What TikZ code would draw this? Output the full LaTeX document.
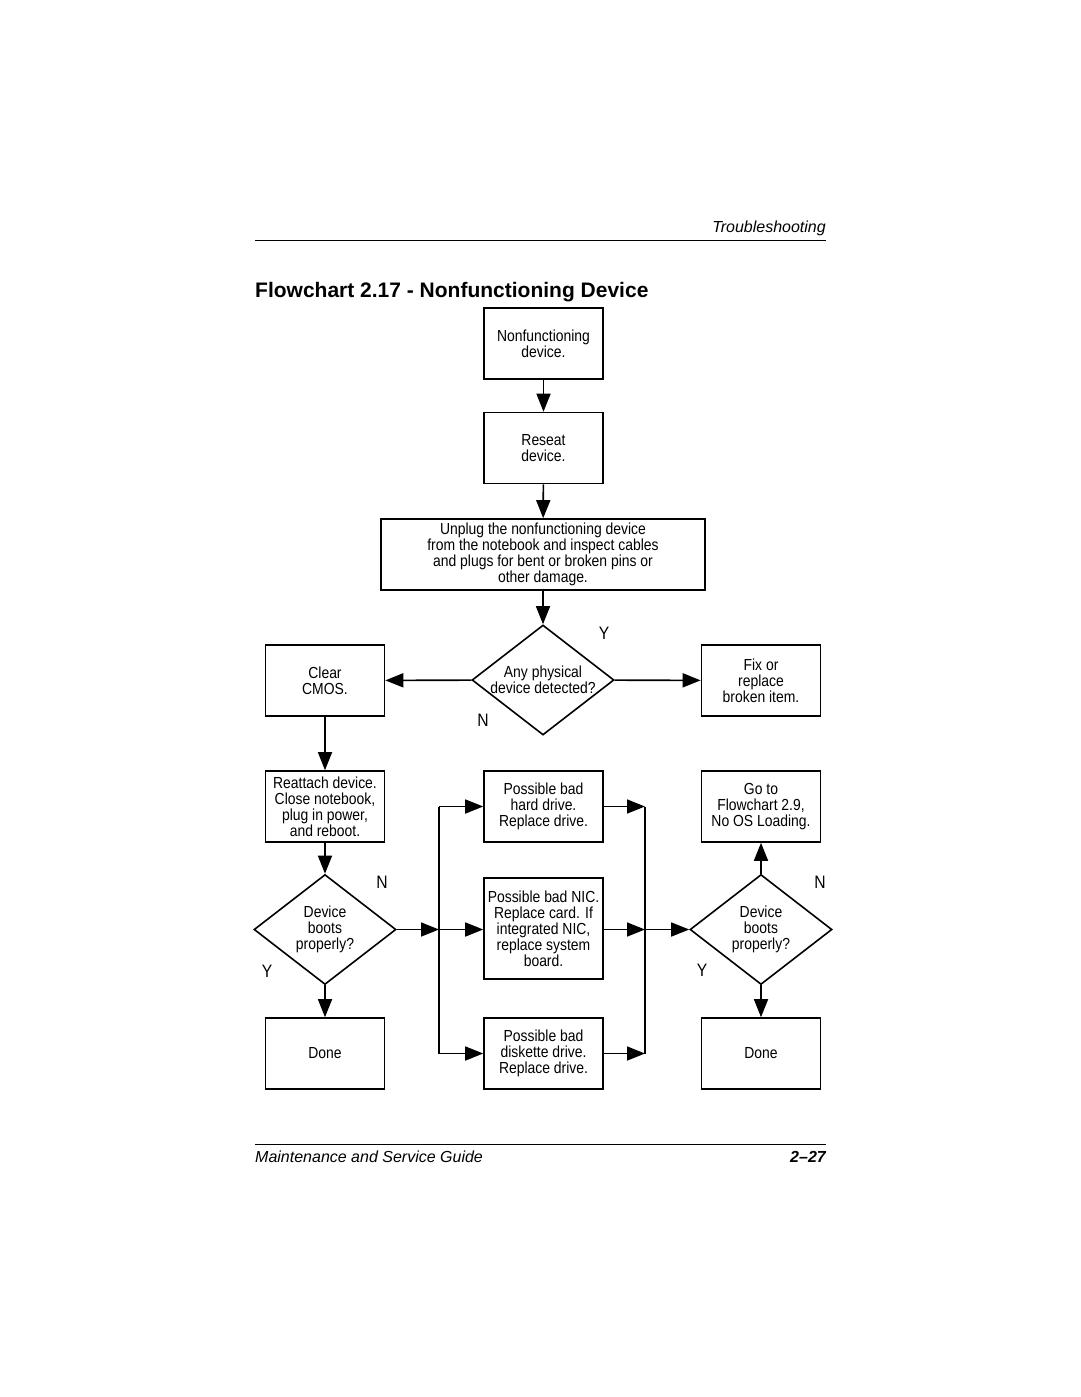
\documentclass[tikz,border=0pt]{standalone}
\usepackage{fontspec}
\setmainfont{Liberation Sans}
\newfontfamily\nf[FakeStretch=0.87]{Liberation Sans}
\usetikzlibrary{shapes.geometric,arrows.meta}
\begin{document}
\begin{tikzpicture}[x=1pt,y=-1pt,
  box/.style={draw,line width=1.6pt,rectangle,minimum width=119pt,minimum height=71pt,inner sep=0pt,align=center,font=\nf\fontsize{16}{16}\selectfont},
  wbox/.style={box,minimum width=324pt},
  dia/.style={draw,line width=1.6pt,diamond,minimum width=142pt,minimum height=110pt,inner sep=0pt},
  dtxt/.style={align=center,inner sep=0pt,font=\nf\fontsize{16}{16}\selectfont},
  arr/.style={line width=1.6pt,-{Triangle[length=18pt,width=14pt]}},
  ln/.style={line width=1.6pt},
  yn/.style={font=\nf\fontsize{18}{18}\selectfont,inner sep=0pt}]
\useasboundingbox (0,0) rectangle (1080,1397);
% header and footer
\node[anchor=east,inner sep=0pt,font=\fontsize{16}{16}\selectfont\itshape] (hdr) at (826,228) {Troubleshooting};
\coordinate (hl1) at (255,240); \coordinate (hl2) at (826,240);
\draw[line width=1pt] (hl1) -- (hl2);
\node[anchor=west,inner sep=0pt,font=\fontsize{21}{22}\selectfont\bfseries] (title) at (255,292) {Flowchart 2.17 - Nonfunctioning Device};
\coordinate (fl1) at (255,1144); \coordinate (fl2) at (826,1144);
\draw[line width=1pt] (fl1) -- (fl2);
\node[anchor=west,inner sep=0pt,font=\fontsize{16}{16}\selectfont\itshape] (ftl) at (255,1157) {Maintenance and Service Guide};
\node[anchor=east,inner sep=0pt,font=\fontsize{16}{16}\selectfont\bfseries\itshape] (ftr) at (826,1157) {2--27};
% nodes
\node[box] (b1) at (543.5,343.5) {Nonfunctioning\\device.};
\node[box] (b2) at (543.5,448) {Reseat\\device.};
\node[wbox] (b3) at (543,554.5) {Unplug the nonfunctioning device\\from the notebook and inspect cables\\and plugs for bent or broken pins or\\other damage.};
\node[dia] (d1) at (543,680) {};
\node[dtxt] (d1t) at (d1.center) {Any physical\\device detected?};
\node[box] (cmos) at (325,680.5) {Clear\\CMOS.};
\node[box] (fix) at (761,680.5) {Fix or\\replace\\broken item.};
\node[box] (re) at (325,806.5) {Reattach device.\\Close notebook,\\plug in power,\\and reboot.};
\node[dia] (d2) at (325,929.5) {};
\node[dtxt] (d2t) at (d2.center) {Device\\boots\\properly?};
\node[box] (done1) at (325,1053.5) {Done};
\node[box] (hd) at (543.5,806.5) {Possible bad\\hard drive.\\Replace drive.};
\node[box,minimum height=101pt] (nic) at (543.5,928.5) {Possible bad NIC.\\Replace card. If\\integrated NIC,\\replace system\\board.};
\node[box] (fd) at (543.5,1053.5) {Possible bad\\diskette drive.\\Replace drive.};
\node[dia] (d3) at (761,929.5) {};
\node[dtxt] (d3t) at (d3.center) {Device\\boots\\properly?};
\node[box] (goto) at (761,806.5) {Go to\\Flowchart 2.9,\\No OS Loading.};
\node[box] (done2) at (761,1053.5) {Done};
% labels
\node[yn] (y1) at (604,633) {Y};
\node[yn] (n1) at (483,720) {N};
\node[yn] (n2) at (382,882) {N};
\node[yn] (y2) at (267,971) {Y};
\node[yn] (n3) at (820,882) {N};
\node[yn] (y3) at (702,970) {Y};
% bus coordinates
\coordinate (Lt) at (439,806.5); \coordinate (Lm) at (439,929.5); \coordinate (Lb) at (439,1053.5);
\coordinate (Rt) at (645,806.5); \coordinate (Rm) at (645,929.5); \coordinate (Rb) at (645,1053.5);
% connectors
\draw[arr] (b1) -- (b2);
\draw[arr] (b2) -- (b3);
\draw[arr] (b3) -- (d1);
\draw[arr] (d1) -- (cmos);
\draw[arr] (d1) -- (fix);
\draw[arr] (cmos) -- (re);
\draw[arr] (re) -- (d2);
\draw[arr] (d2) -- (done1);
\draw[arr] (d2.east) -- (Lm);
\draw[ln] (Lt) -- (Lb);
\draw[arr] (Lt) -- (hd.west);
\draw[arr] (Lm) -- (nic.west |- Lm);
\draw[arr] (Lb) -- (fd.west);
\draw[ln] (Rt) -- (Rb);
\draw[arr] (hd.east) -- (Rt);
\draw[arr] (nic.east |- Rm) -- (Rm);
\draw[arr] (fd.east) -- (Rb);
\draw[arr] (Rm) -- (d3.west);
\draw[arr] (d3) -- (goto);
\draw[arr] (d3) -- (done2);
\end{tikzpicture}
\end{document}
